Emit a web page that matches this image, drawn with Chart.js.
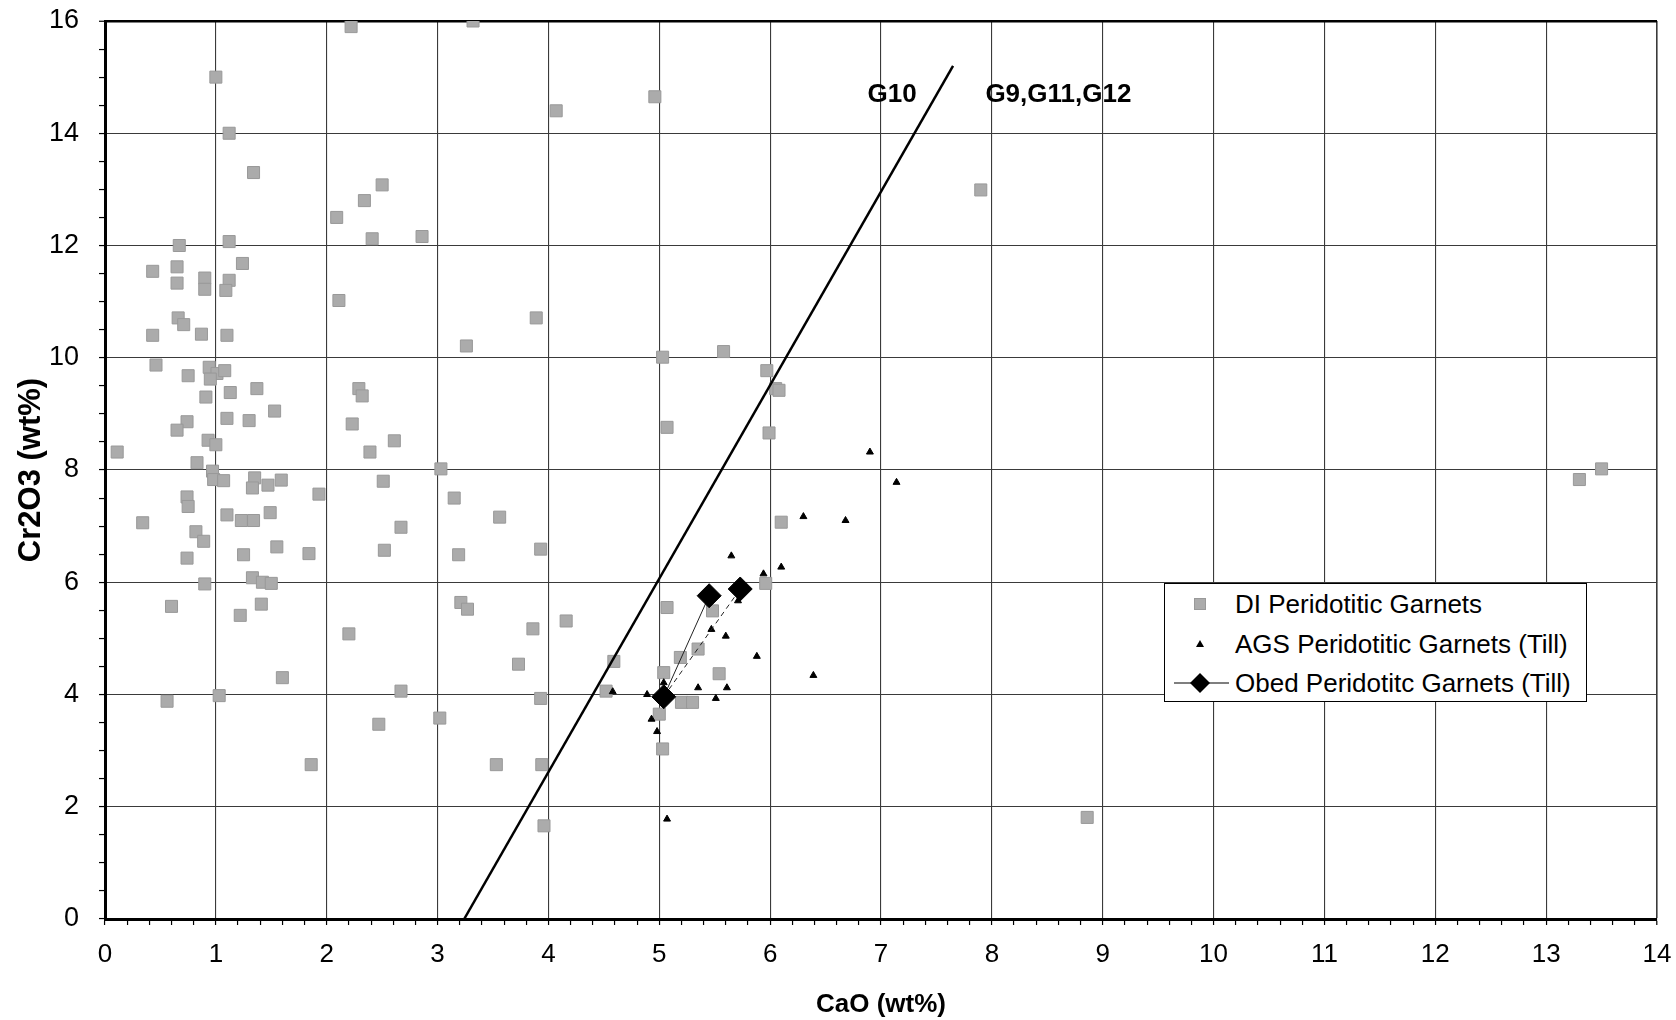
<!DOCTYPE html>
<html>
<head>
<meta charset="utf-8">
<title>Cr2O3 vs CaO - peridotitic garnets</title>
<script src="https://cdn.jsdelivr.net/npm/chart.js@4"></script>
<style>
  body { margin: 0; background: #fff; }
  #wrap { position: relative; width: 1676px; height: 1020px; }
  #legend {
    position: absolute; left: 1164px; top: 583px; width: 421px; height: 117px;
    border: 1px solid #000; background: #fff;
    font-family: "Liberation Sans", Arial, sans-serif; font-size: 26px; color: #000;
  }
  .row { position: absolute; left: 0; height: 38px; width: 100%; }
  .row svg { position: absolute; left: 0; top: 0; }
  .row span { position: absolute; left: 70px; top: 0; line-height: 38px; white-space: nowrap; }
</style>
</head>
<body>
<div id="wrap">
  <canvas id="garnetChart" width="1676" height="1020"></canvas>
  <div id="legend">
    <div class="row" style="top:1px">
      <svg width="66" height="38"><rect x="29.5" y="13.5" width="11" height="11" fill="#ababab" stroke="#999"/></svg>
      <span>DI Peridotitic Garnets</span>
    </div>
    <div class="row" style="top:41px">
      <svg width="66" height="38"><polygon points="35,15 39,22 31,22" fill="#000"/></svg>
      <span>AGS Peridotitic Garnets (Till)</span>
    </div>
    <div class="row" style="top:80px">
      <svg width="66" height="38"><line x1="9" y1="19" x2="64" y2="19" stroke="#000" stroke-width="1.2"/><polygon points="35,9 45,19 35,29 25,19" fill="#000"/></svg>
      <span>Obed Peridotitc Garnets (Till)</span>
    </div>
  </div>
</div>
<script>
// DI peridotitic garnets (CaO wt%, Cr2O3 wt%)
const diCaO = [
  1.0, 1.12, 1.34, 2.22, 3.32, 4.07, 4.96, 2.5, 2.34, 2.09, 2.41, 2.86, 0.67, 1.12,
  0.43, 0.65, 0.65, 0.9, 0.9, 1.12, 1.09, 1.24, 2.11, 7.9, 3.89, 0.66, 0.71, 0.43,
  0.87, 1.1, 3.26, 5.03, 5.58, 0.46, 0.75, 0.94, 1.01, 1.08, 0.95, 0.91, 1.13, 1.37,
  2.29, 2.32, 5.97, 6.05, 6.08, 1.53, 1.1, 1.3, 0.74, 0.65, 0.93, 1.0, 0.11, 2.23,
  2.61, 2.39, 5.07, 5.99, 3.03, 0.83, 0.97, 0.98, 1.07, 1.35, 1.33, 1.47, 1.59, 0.74,
  0.75, 1.93, 2.51, 3.15, 3.56, 0.34, 1.1, 1.23, 1.34, 1.49, 6.1, 0.82, 0.89, 2.67,
  1.55, 1.25, 1.84, 0.74, 2.52, 3.19, 3.93, 1.33, 1.42, 1.5, 0.9, 5.96, 0.6, 1.41,
  1.22, 2.2, 3.21, 3.27, 3.86, 4.16, 5.07, 5.48, 1.6, 3.73, 4.59, 5.35, 5.19, 5.54,
  5.04, 2.67, 4.52, 1.03, 0.56, 3.93, 5.2, 5.3, 5.0, 3.02, 2.47, 5.03, 1.86, 3.53,
  3.94, 3.96, 8.86, 13.3, 13.5
];
const diCr2O3 = [
  15.0, 14.0, 13.3, 15.9, 16.0, 14.4, 14.65, 13.08, 12.8, 12.5, 12.12, 12.16, 12.0, 12.07,
  11.54, 11.62, 11.33, 11.42, 11.22, 11.38, 11.2, 11.68, 11.02, 12.99, 10.71, 10.71, 10.59, 10.4,
  10.42, 10.4, 10.21, 10.01, 10.11, 9.87, 9.68, 9.83, 9.72, 9.77, 9.62, 9.3, 9.38, 9.45,
  9.45, 9.32, 9.77, 9.45, 9.42, 9.05, 8.92, 8.88, 8.86, 8.71, 8.53, 8.45, 8.32, 8.82,
  8.52, 8.32, 8.76, 8.66, 8.02, 8.13, 7.98, 7.83, 7.81, 7.86, 7.68, 7.73, 7.82, 7.52,
  7.35, 7.57, 7.8, 7.5, 7.16, 7.06, 7.2, 7.1, 7.1, 7.24, 7.07, 6.9, 6.73, 6.98,
  6.63, 6.49, 6.51, 6.43, 6.57, 6.49, 6.59, 6.08, 6.0, 5.98, 5.97, 5.98, 5.57, 5.61,
  5.41, 5.08, 5.64, 5.52, 5.17, 5.31, 5.55, 5.49, 4.3, 4.54, 4.59, 4.81, 4.66, 4.37,
  4.39, 4.06, 4.06, 3.98, 3.88, 3.93, 3.86, 3.86, 3.65, 3.58, 3.47, 3.03, 2.75, 2.75,
  2.75, 1.66, 1.81, 7.83, 8.02
];

// AGS peridotitic garnets (till)
const agsCaO = [6.9, 7.14, 6.3, 6.68, 5.65, 6.1, 5.94, 5.71, 5.47, 5.6, 5.88, 6.39, 5.35, 5.61, 5.51, 4.89, 4.58, 5.04, 4.93, 4.98, 5.07];
const agsCr2O3 = [8.32, 7.78, 7.17, 7.1, 6.47, 6.27, 6.15, 5.67, 5.16, 5.04, 4.68, 4.34, 4.12, 4.12, 3.93, 4.0, 4.05, 4.21, 3.56, 3.34, 1.78];

// Obed peridotitic garnets (till)
const obedCaO = [5.45, 5.04, 5.73];
const obedCr2O3 = [5.76, 3.96, 5.88];

// G10 / G9 boundary line
const g10CaO = [3.24, 7.65];
const g10Cr2O3 = [0, 15.2];

const xTicksMin = 0, xTicksMax = 14;
const yTicksMin = 0, yTicksMax = 16;

const zoneLabels = [
  { text: "G10", x: 7.1, y: 14.68 },
  { text: "G9,G11,G12", x: 8.6, y: 14.68 },
];

const FONT = '"Liberation Sans", Arial, sans-serif';
const toPoints = (xs, ys) => xs.map((x, i) => ({ x: x, y: ys[i] }));
const isWhole = (v) => Math.abs(v - Math.round(v)) < 1e-6;
const isEven = (v) => isWhole(v) && Math.round(v) % 2 === 0;

// 区域标注 G10 / G9,G11,G12
const zoneLabelPlugin = {
  id: "zoneLabels",
  afterDatasetsDraw(chart) {
    const { ctx, scales } = chart;
    ctx.save();
    ctx.font = "bold 26px " + FONT;
    ctx.fillStyle = "#000";
    ctx.textAlign = "center";
    ctx.textBaseline = "middle";
    zoneLabels.forEach((l) => {
      ctx.fillText(l.text, scales.x.getPixelForValue(l.x), scales.y.getPixelForValue(l.y));
    });
    ctx.restore();
  },
};

const ctx = document.getElementById("garnetChart").getContext("2d");
const garnetChart = new Chart(ctx, {
  type: "scatter",
  data: {
    datasets: [
      {
        label: "Obed Peridotitc Garnets (Till)",
        data: toPoints(obedCaO, obedCr2O3),
        showLine: true,
        borderColor: "#222",
        borderWidth: 1,
        segment: { borderDash: (c) => (c.p0DataIndex === 1 ? [5, 4] : undefined) },
        pointStyle: "rectRot",
        pointRadius: 12,
        pointBackgroundColor: "#000",
        pointBorderColor: "#000",
        pointBorderWidth: 1,
      },
      {
        label: "AGS Peridotitic Garnets (Till)",
        data: toPoints(agsCaO, agsCr2O3),
        pointStyle: "triangle",
        pointRadius: 4,
        pointBackgroundColor: "#000",
        pointBorderColor: "#000",
        pointBorderWidth: 1,
      },
      {
        label: "G10 line",
        data: toPoints(g10CaO, g10Cr2O3),
        showLine: true,
        borderColor: "#000",
        borderWidth: 2.5,
        pointRadius: 0,
      },
      {
        label: "DI Peridotitic Garnets",
        data: toPoints(diCaO, diCr2O3),
        pointStyle: "rect",
        pointRadius: 8.5,
        pointBackgroundColor: "#ababab",
        pointBorderColor: "#999",
        pointBorderWidth: 1,
      },
    ],
  },
  options: {
    responsive: false,
    animation: false,
    layout: { padding: { left: 0, right: 19, top: 21, bottom: 0 } },
    plugins: { legend: { display: false }, tooltip: { enabled: false } },
    scales: {
      x: {
        type: "linear",
        min: xTicksMin,
        max: xTicksMax,
        afterFit: (s) => { s.height = 101; s.paddingLeft = 0; s.paddingRight = 0; },
        ticks: {
          stepSize: 0.2,
          autoSkip: false,
          maxRotation: 0,
          padding: 14,
          color: "#000",
          font: { family: FONT, size: 26 },
          callback: (v) => (isWhole(v) ? String(Math.round(v)) : ""),
        },
        grid: {
          color: (c) => (isWhole(c.tick.value) ? "#3a3a3a" : "rgba(0,0,0,0)"),
          lineWidth: (c) => (c.tick.value >= 14 ? 1.6 : 1.1),
          tickColor: "#000",
          tickLength: 6,
          tickWidth: 1.2,
        },
        border: { color: "#000", width: 3 },
        title: {
          display: true,
          text: "CaO (wt%)",
          color: "#000",
          font: { family: FONT, size: 26, weight: "bold" },
          padding: { top: 0, bottom: 0 },
        },
      },
      y: {
        type: "linear",
        min: yTicksMin,
        max: yTicksMax,
        afterFit: (s) => { s.width = 105; s.paddingTop = 0; s.paddingBottom = 0; },
        ticks: {
          stepSize: 0.5,
          autoSkip: false,
          padding: 20,
          color: "#000",
          font: { family: FONT, size: 27 },
          callback: (v) => (isEven(v) ? String(Math.round(v)) : ""),
        },
        grid: {
          color: (c) => (isEven(c.tick.value) ? (c.tick.value >= 16 ? "#000" : "#3a3a3a") : "rgba(0,0,0,0)"),
          lineWidth: (c) => (c.tick.value >= 16 ? 2.5 : 1.1),
          tickColor: "#000",
          tickLength: 6,
          tickWidth: 1.2,
        },
        border: { color: "#000", width: 3 },
        title: {
          display: true,
          text: "Cr2O3 (wt%)",
          color: "#000",
          font: { family: FONT, size: 31, weight: "bold" },
          padding: { top: 13, bottom: 0 },
        },
      },
    },
  },
  plugins: [zoneLabelPlugin],
});
</script>
</body>
</html>
